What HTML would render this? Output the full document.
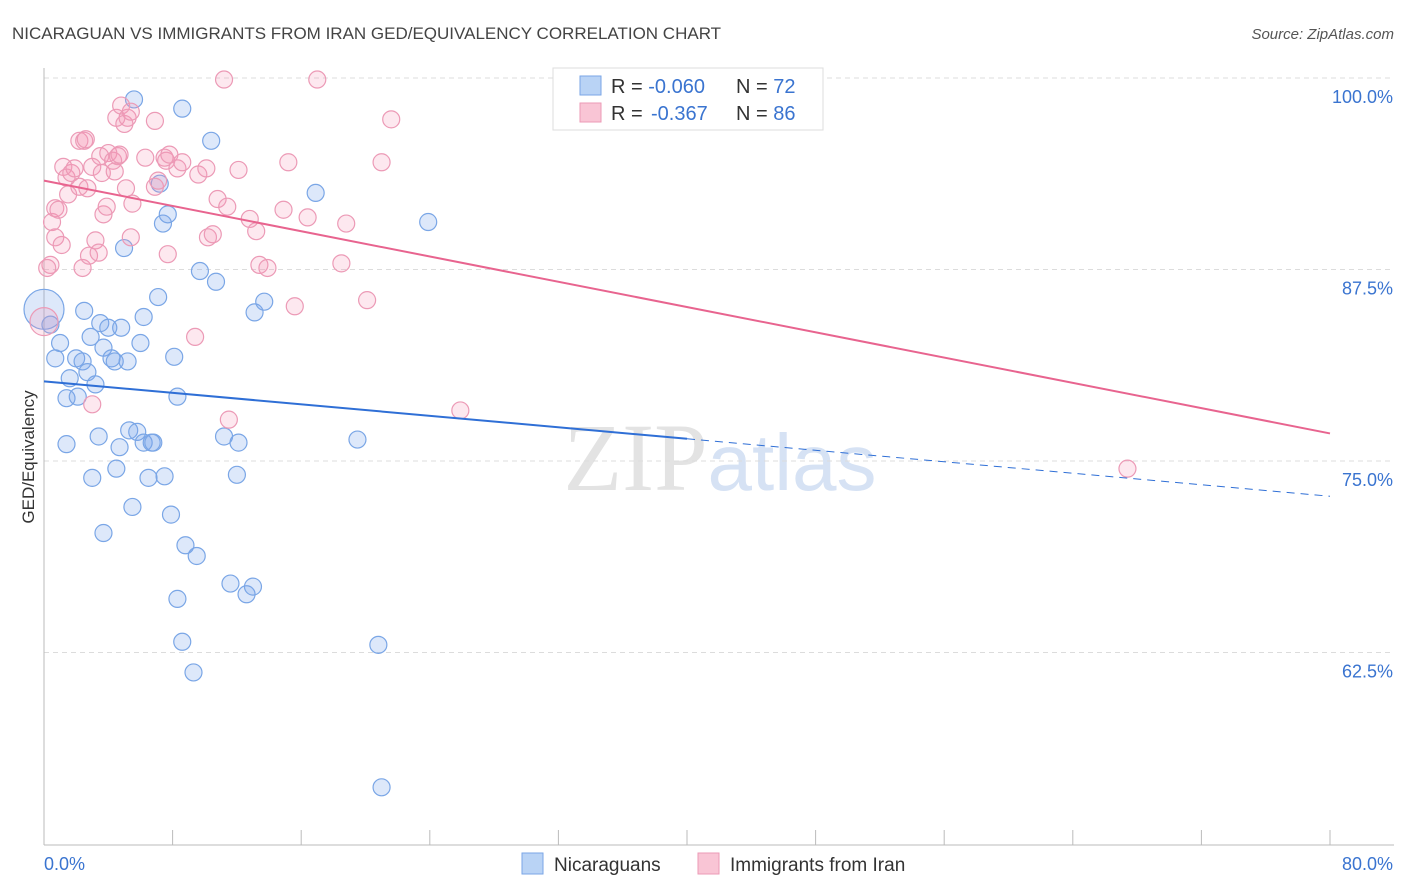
<!DOCTYPE html>
<html><head><meta charset="utf-8">
<style>
body{margin:0;background:#fff;font-family:"Liberation Sans",sans-serif;}
svg{display:block}
</style></head>
<body>
<svg id="chart" width="1406" height="892" xmlns="http://www.w3.org/2000/svg">
<text x="12" y="39" font-size="17" fill="#444">NICARAGUAN VS IMMIGRANTS FROM IRAN GED/EQUIVALENCY CORRELATION CHART</text>
<text x="1394" y="39" font-size="15" fill="#555" text-anchor="end" font-style="italic">Source: ZipAtlas.com</text>
<text x="720" y="490" font-size="96" text-anchor="middle" fill="#e3e3e3" font-family="Liberation Serif,serif">ZIP<tspan fill="#d6e2f4" font-family="Liberation Sans,sans-serif" font-size="80">atlas</tspan></text>
<g id="grid"></g>
<g id="axes"></g>
<g id="pts"></g>
<g id="lines"></g>
<text transform="translate(34,457) rotate(-90)" font-size="17" fill="#333" text-anchor="middle">GED/Equivalency</text>
<g>
<rect x="553" y="68" width="270" height="62" fill="#fff" stroke="#ddd"/>
<rect x="580" y="76" width="21" height="19" fill="#b9d3f5" stroke="#7aa6e6"/>
<rect x="580" y="103" width="21" height="19" fill="#f9c5d5" stroke="#ec9ab6"/>
<text x="611" y="93" font-size="20" fill="#333">R = <tspan fill="#3a74d0">-0.060</tspan><tspan x="736">N = </tspan><tspan fill="#3a74d0">72</tspan></text>
<text x="611" y="120" font-size="20" fill="#333">R = <tspan fill="#3a74d0" x="651">-0.367</tspan><tspan x="736">N = </tspan><tspan fill="#3a74d0">86</tspan></text>
</g>
<g>
<rect x="522" y="853" width="21" height="21" fill="#b9d3f5" stroke="#7aa6e6"/>
<text x="554" y="871" font-size="19" fill="#333">Nicaraguans</text>
<rect x="698" y="853" width="21" height="21" fill="#f9c5d5" stroke="#ec9ab6"/>
<text x="730" y="871" font-size="19" fill="#333">Immigrants from Iran</text>
</g>
</svg>
<script>
const blueX=[0,0.4,0.7,1.0,1.6,1.4,2.1,2.5,2.0,2.4,2.7,2.9,3.2,1.4,3.4,3.5,3.7,4.0,4.2,4.4,4.8,5.2,3.0,3.7,4.5,4.7,5.3,5.8,5.5,4.98,5.6,6.0,6.2,6.2,6.5,6.7,6.8,7.1,7.2,7.4,7.5,7.7,7.9,8.1,8.3,8.3,8.6,8.6,8.8,9.3,9.5,9.7,10.4,10.7,11.2,11.6,12.0,12.1,12.6,13.0,13.1,13.7,16.9,19.5,20.8,21.0,23.9,33.0];
const blueY=[84.9,83.9,81.7,82.7,80.4,79.1,79.2,84.8,81.7,81.5,80.8,83.1,80.0,76.1,76.6,84.0,82.4,83.7,81.7,81.5,83.7,81.5,73.9,70.3,74.5,75.9,77.0,76.9,72.0,88.9,98.6,82.7,84.4,76.2,73.9,76.2,76.2,85.7,93.1,90.5,74.0,91.1,71.5,81.8,79.2,66.0,98.0,63.2,69.5,61.2,68.8,87.4,95.9,86.7,76.6,67.0,74.1,76.2,66.3,66.8,84.7,85.4,92.5,76.4,63.0,53.7,90.6,97.3];
const pinkX=[0,0.4,0.2,0.5,0.7,0.9,0.7,1.1,1.2,1.5,1.4,1.7,1.9,2.2,2.2,2.5,2.4,2.6,2.7,2.8,3.0,3.2,3.0,3.4,3.5,3.6,3.7,3.9,4.0,4.3,4.5,4.6,4.4,4.7,4.8,5.0,5.1,5.2,5.4,5.4,5.5,6.3,6.9,6.9,7.1,7.5,7.6,7.7,7.8,8.3,8.6,9.4,9.6,10.1,10.2,10.5,10.8,11.2,11.5,12.1,11.4,12.8,13.2,13.4,13.9,14.9,15.2,15.6,16.4,17.0,18.5,18.8,20.1,21.0,21.6,25.9,67.4];
const pinkY=[84.1,87.8,87.6,90.6,91.5,91.4,89.6,89.1,94.2,92.4,93.5,93.8,94.1,95.9,92.9,95.9,87.6,96.0,92.8,88.4,94.2,89.4,78.7,88.6,94.9,93.8,91.1,91.6,95.1,94.6,97.4,94.9,93.9,95.0,98.2,97.0,92.8,97.4,89.6,97.8,91.8,94.8,97.2,92.9,93.3,94.8,94.6,88.5,95.0,94.1,94.5,83.1,93.7,94.1,89.6,89.8,92.1,99.9,77.7,94.0,91.6,90.8,90.0,87.8,87.6,91.4,94.5,85.1,90.9,99.9,87.9,90.5,85.5,94.5,97.3,78.3,74.5];
const yTicks=[100,87.5,75,62.5];
const yTickLabels=["100.0%","87.5%","75.0%","62.5%"];
const blueTrend=[80.2,72.7]; // at x=0 and x=80
const pinkTrend=[93.3,76.8];
const NS="http://www.w3.org/2000/svg";
const xs=v=>44+v/80*1286;
const ys=v=>78+(100-v)*15.32;
function mk(tag,attrs,parent){const e=document.createElementNS(NS,tag);for(const k in attrs)e.setAttribute(k,attrs[k]);document.getElementById(parent).appendChild(e);return e;}
yTicks.forEach((t,i)=>{
 const g=mk('line',{x1:44,x2:1394,y1:ys(t),y2:ys(t),stroke:'#dcdcdc','stroke-dasharray':'5,4'},'grid');
 
 
 const l=mk('text',{x:1393,y:ys(t)+25,'font-size':18,fill:'#3a74d0','text-anchor':'end'},'grid');
 l.textContent=yTickLabels[i];
 
 
});
const ax=mk('line',{x1:44,x2:44,y1:68,y2:845,stroke:'#bbb'},'axes');


const bx=mk('line',{x1:44,x2:1394,y1:845,y2:845,stroke:'#bbb'},'axes');


for(let v=0;v<=80;v+=8){
 const t=mk('line',{x1:xs(v),x2:xs(v),y1:830,y2:845,stroke:'#bbb'},'axes');
 
 
}
[["0.0%",44,'start'],["80.0%",1393,'end']].forEach(a=>{
 const t=mk('text',{x:a[1],y:870,'font-size':18,fill:'#3a74d0','text-anchor':a[2]},'axes');
 t.textContent=a[0];
 
 
});
function pts(X,Y,fill,stroke,name){
 X.forEach((x,i)=>{
  const r=(x===0&&i===0)?(name==='blue-point'?20:14):8.5;
  const c=mk('circle',{cx:xs(x),cy:ys(Y[i]),r:r,fill:fill,stroke:stroke,'stroke-width':1.2},'pts');
  
  
 });
}
pts(blueX,blueY,'rgba(120,165,235,0.25)','#7aa6e6','blue-point');
pts(pinkX,pinkY,'rgba(245,150,180,0.22)','#ec9ab6','pink-point');
const bAt=x=>blueTrend[0]+(blueTrend[1]-blueTrend[0])*x/80;
const b1=mk('line',{x1:xs(0),y1:ys(bAt(0)),x2:xs(40),y2:ys(bAt(40)),stroke:'#2f6fd6','stroke-width':2},'lines');


const b2=mk('line',{x1:xs(40),y1:ys(bAt(40)),x2:xs(80),y2:ys(bAt(80)),stroke:'#2f6fd6','stroke-width':1,'stroke-dasharray':'8,6'},'lines');


const p1=mk('line',{x1:xs(0),y1:ys(pinkTrend[0]),x2:xs(80),y2:ys(pinkTrend[1]),stroke:'#e8648f','stroke-width':2},'lines');


</script>
</body></html>
